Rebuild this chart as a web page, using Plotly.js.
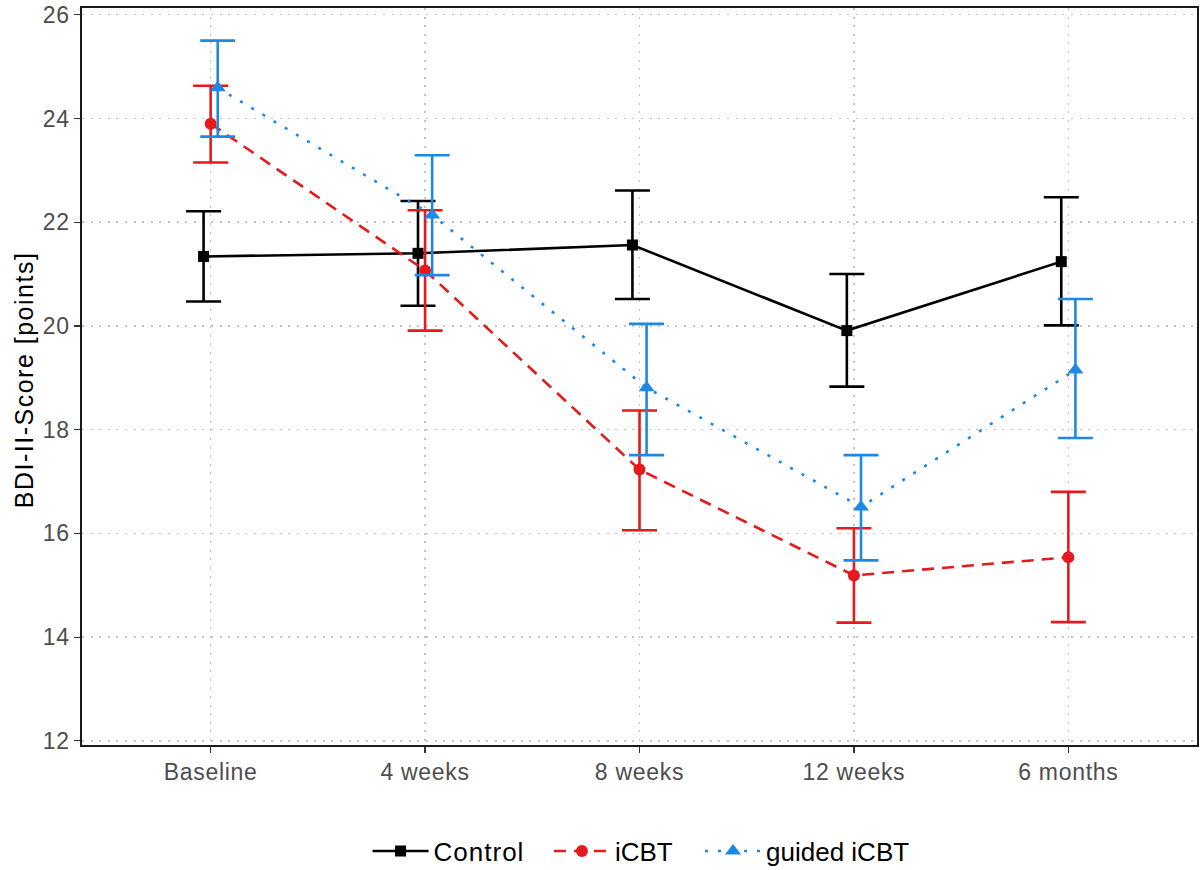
<!DOCTYPE html>
<html>
<head>
<meta charset="utf-8">
<script src="https://cdn.plot.ly/plotly-3.0.1.min.js"></script>
<style>
body{margin:0;padding:0;background:#fff;}
#chart{width:1200px;height:870px;}
.xtick text, .ytick text { letter-spacing: 0.7px; }
.legendtext { letter-spacing: 1px; }
.annotation-text { letter-spacing: 1.5px; }
</style>
</head>
<body>
<div id="chart"></div>
<script>
const timepoints = ["Baseline", "4 weeks", "8 weeks", "12 weeks", "6 months"];

const controlMean  = [21.34, 21.40, 21.56, 19.91, 21.24];
const controlUpper = [22.21, 22.41, 22.61, 21.00, 22.48];
const controlLower = [20.47, 20.39, 20.52, 18.83, 20.01];

const icbtMean  = [23.90, 21.07, 17.23, 15.19, 15.54];
const icbtUpper = [24.63, 22.23, 18.37, 16.10, 16.80];
const icbtLower = [23.15, 19.91, 16.06, 14.28, 14.29];

const guidedMean  = [24.59, 22.14, 18.81, 16.51, 19.15];
const guidedUpper = [25.50, 23.29, 20.04, 17.51, 20.52];
const guidedLower = [23.65, 20.98, 17.51, 15.48, 17.84];

const yTicks = [12, 14, 16, 18, 20, 22, 24, 26];
const yAxisTitle = 'BDI-II-Score [points]';

const dodge = 0.033;
function xs(offset) { return timepoints.map((_, i) => i + 1 + offset); }
function errUp(m, u) { return m.map((v, i) => u[i] - v); }
function errDn(m, l) { return m.map((v, i) => v - l[i]); }

function series(name, legendId, mean, upper, lower, offset, color, dash, symbol, msize) {
  return {
    type: 'scatter', mode: 'lines+markers', name: name, legend: legendId,
    x: xs(offset), y: mean,
    line: {color: color, width: 2.6, dash: dash},
    marker: {color: color, symbol: symbol, size: msize},
    error_y: {type: 'data', symmetric: false,
      array: errUp(mean, upper), arrayminus: errDn(mean, lower),
      color: color, thickness: 2.6, width: 17.5}
  };
}

const traces = [
  series('Control', 'legend', controlMean, controlUpper, controlLower, -dodge, '#000000', 'solid', 'square', 11),
  series('iCBT', 'legend2', icbtMean, icbtUpper, icbtLower, 0, '#E41A1C', '12px,8px', 'circle', 12),
  series('guided iCBT', 'legend3', guidedMean, guidedUpper, guidedLower, dodge, '#1E88E5', '3px,10px', 'triangle-up', 14)
];

const gridStyle = {showgrid: true, gridcolor: '#c4c4c4', griddash: '2px,6.6px', gridwidth: 1.5};
function legendAt(x) {
  return {orientation: 'h', x: x, xanchor: 'left', yref: 'container', y: 0.0218, yanchor: 'middle',
    font: {size: 26, color: '#000'}, itemwidth: 56, bgcolor: 'rgba(0,0,0,0)'};
}

const layout = {
  width: 1200, height: 870,
  margin: {l: 82, r: 3, t: 8, b: 125},
  paper_bgcolor: '#fff', plot_bgcolor: '#fff',
  font: {family: 'Liberation Sans, Arial, sans-serif', color: '#000'},
  showlegend: true,
  legend: legendAt(0.2561),
  legend2: legendAt(0.4188),
  legend3: legendAt(0.5543),
  annotations: [{
    text: yAxisTitle, xref: 'paper', yref: 'paper', x: -0.052, y: 0.495,
    xanchor: 'center', yanchor: 'middle', textangle: -90, showarrow: false,
    font: {size: 25, color: '#000'}
  }],
  xaxis: Object.assign({
    range: [0.4, 5.6], tickvals: [1, 2, 3, 4, 5], ticktext: timepoints,
    tickfont: {size: 23, color: '#4d4d4d'}, ticklabelstandoff: 0,
    zeroline: false, showline: true, mirror: true, linecolor: '#1a1a1a', linewidth: 1.6,
    ticks: 'outside', ticklen: 6, tickcolor: '#333', tickwidth: 1.2
  }, gridStyle),
  yaxis: Object.assign({
    range: [11.92, 26.13], tickvals: yTicks, ticktext: yTicks.map(String),
    tickfont: {size: 23, color: '#4d4d4d'}, ticklabelstandoff: 0,
    zeroline: false, showline: true, mirror: true, linecolor: '#1a1a1a', linewidth: 1.6,
    ticks: 'outside', ticklen: 6, tickcolor: '#333', tickwidth: 1.2
  }, gridStyle)
};

Plotly.newPlot('chart', traces, layout, {displayModeBar: false, staticPlot: true});
</script>
</body>
</html>
